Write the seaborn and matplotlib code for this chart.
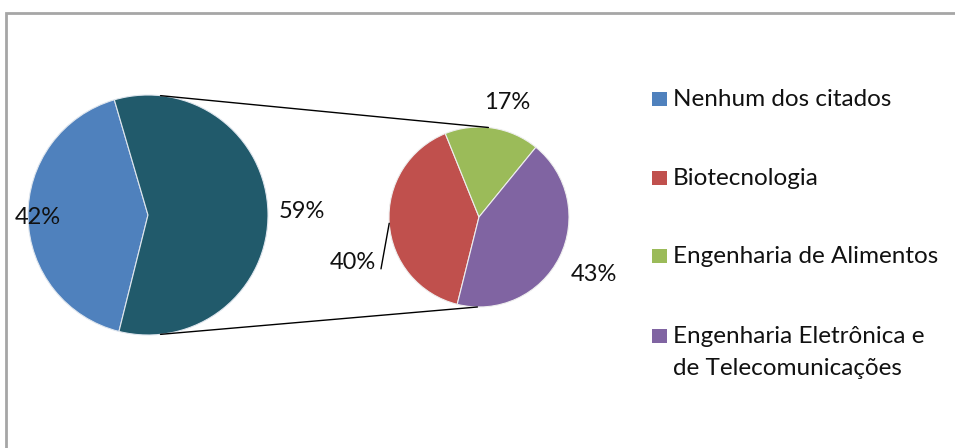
import numpy as np
import matplotlib
matplotlib.use("Agg")
import matplotlib.pyplot as plt
from matplotlib.patches import Rectangle
import seaborn as sns

# Main pie: "Nenhum dos citados" vs. the grouped remainder
main_labels = ["Nenhum dos citados", "Outros"]
main_values = [42, 59]

# Breakdown of the grouped remainder
sub_labels = ["Biotecnologia", "Engenharia de Alimentos",
              "Engenharia Eletrônica e\nde Telecomunicações"]
sub_values = [40, 17, 43]

sns.set_theme(style="white")
plt.rcParams["font.family"] = ["Lato", "DejaVu Sans"]

main_colors = ["#4F81BD", "#215A6B"]
sub_colors = ["#C0504D", "#9BBB59", "#8064A2"]

W, H = 955, 448
fig = plt.figure(figsize=(W / 100, H / 100), dpi=100)
ax = fig.add_axes([0, 0, 1, 1])

start = -104
main_c, main_r = (148, 233), 120
sub_c, sub_r = (479, 231), 90

main_w, _ = ax.pie(main_values, colors=main_colors, startangle=start,
                   counterclock=False, center=main_c, radius=main_r,
                   wedgeprops=dict(edgecolor="#dfe6ee", linewidth=0.8))
sub_w, _ = ax.pie(sub_values, colors=sub_colors, startangle=start,
                  counterclock=False, center=sub_c, radius=sub_r,
                  wedgeprops=dict(edgecolor="#eeeeee", linewidth=0.8))

ax.set_xlim(0, W)
ax.set_ylim(0, H)
ax.set_aspect("equal")
ax.axis("off")


def on_circle(c, r, deg):
    a = np.deg2rad(deg)
    return c[0] + r * np.cos(a), c[1] + r * np.sin(a)


# connector lines between the grouped slice and the secondary pie
for a_main, a_sub in [(84, 84), (-84, -91)]:
    x0, y0 = on_circle(main_c, main_r, a_main)
    x1, y1 = on_circle(sub_c, sub_r, a_sub)
    ax.plot([x0, x1], [y0, y1], color="black", lw=1.0)


def mid(w):
    return (w.theta1 + w.theta2) / 2


lab_kw = dict(fontsize=17, color="#111111", ha="center", va="center")

# main pie labels
ax.text(*on_circle(main_c, main_r * 0.92, mid(main_w[0])), f"{main_values[0]}%", **lab_kw)
ax.text(*on_circle(main_c, main_r * 1.28, mid(main_w[1])), f"{main_values[1]}%", **lab_kw)

# secondary pie labels
bio_mid = mid(sub_w[0])
lx, ly = on_circle(sub_c, sub_r * 1.49, bio_mid + 16)
ax.text(lx, ly, f"{sub_values[0]}%", **lab_kw)
ex, ey = on_circle(sub_c, sub_r, bio_mid)
ax.plot([ex, lx + 28], [ey, ly - 6], color="black", lw=1.0)
ax.text(*on_circle(sub_c, sub_r * 1.31, mid(sub_w[1]) - 5), f"{sub_values[1]}%", **lab_kw)
ax.text(*on_circle(sub_c, sub_r * 1.43, mid(sub_w[2])), f"{sub_values[2]}%", **lab_kw)

# chart frame (left and top edges visible)
ax.plot([6, 6, W], [0, H - 13, H - 13], color="#a6a6a6", lw=2.0, solid_joinstyle="miter")

# legend: colour squares taken from the wedges, labels on their baselines
legend_entries = [(main_w[0], main_labels[0])] + list(zip(sub_w, sub_labels))
baselines = [106, 185, 263, 343]
for (wedge, label), base in zip(legend_entries, baselines):
    ax.add_patch(Rectangle((652, H - base), 15, 14, facecolor=wedge.get_facecolor(),
                           edgecolor="none"))
    lines = label.split("\n")
    for i, line in enumerate(lines):
        ax.text(673, H - base - 32 * i, line, fontsize=17.5, color="#111111",
                ha="left", va="baseline")

fig.savefig("out.png", dpi=100)
